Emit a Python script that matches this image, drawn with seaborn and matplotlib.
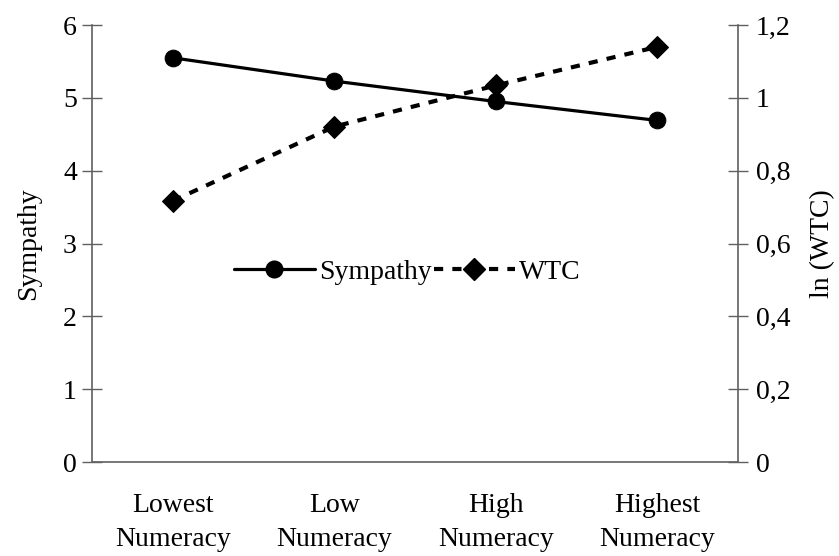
import matplotlib
matplotlib.use("Agg")
import matplotlib.pyplot as plt
import seaborn as sns
import pandas as pd
from matplotlib.lines import Line2D

categories = ["Lowest\nNumeracy", "Low\nNumeracy", "High\nNumeracy", "Highest\nNumeracy"]
sympathy = [5.55, 5.23, 4.95, 4.69]
ln_wtc = [0.717, 0.921, 1.034, 1.140]
left_ticks = [0, 1, 2, 3, 4, 5, 6]
right_ticks = [0, 0.2, 0.4, 0.6, 0.8, 1.0, 1.2]
right_labels = ["0", "0,2", "0,4", "0,6", "0,8", "1", "1,2"]

sns.set_theme(style="white")
plt.rcParams["font.family"] = ["Liberation Serif", "DejaVu Serif"]
plt.rcParams["text.color"] = "black"
plt.rcParams["axes.labelcolor"] = "black"
plt.rcParams["xtick.color"] = "black"
plt.rcParams["ytick.color"] = "black"

df = pd.DataFrame({"x": range(len(categories)), "Sympathy": sympathy, "WTC": ln_wtc})

fig = plt.figure(figsize=(8.39, 5.56), dpi=100)
ax = fig.add_axes([0.1097, 0.169, 0.7699, 0.786])
ax2 = ax.twinx()

spine_col = "#606060"
fs = 20

sns.lineplot(data=df, x="x", y="Sympathy", ax=ax, color="black", lw=2.3,
             marker="o", markersize=12, markeredgecolor="black", legend=False)
sns.lineplot(data=df, x="x", y="WTC", ax=ax2, color="black", lw=3.0,
             marker="D", markersize=11, markeredgecolor="black", legend=False)
ax2.lines[0].set_dashes([2.2, 2.2])

ax.set_xlim(-0.5, 3.5)
ax.set_ylim(0, 6)
ax2.set_ylim(0, 1.2)

ax.set_xticks([-0.5, 0.5, 1.5, 2.5, 3.5])
ax.set_xticklabels([])
ax.set_xticks(range(len(categories)), minor=True)
ax.set_xticklabels(categories, minor=True, fontsize=fs, linespacing=1.5)
ax.tick_params(axis="x", which="minor", length=0, pad=22, labelcolor="black")
ax.tick_params(axis="x", which="major", direction="inout", length=14, width=1, color=spine_col)

ax.set_yticks(left_ticks)
ax.set_yticklabels([str(t) for t in left_ticks], fontsize=fs)
ax.tick_params(axis="y", direction="inout", length=14, width=1, color=spine_col, pad=4,
               left=True, labelcolor="black")
ax2.set_yticks(right_ticks)
ax2.set_yticklabels(right_labels, fontsize=fs)
ax2.tick_params(axis="y", direction="inout", length=14, width=1, color=spine_col, pad=6,
                right=True, labelcolor="black")

for a in (ax, ax2):
    a.spines["top"].set_visible(False)
    for s in ("left", "right", "bottom"):
        a.spines[s].set_color(spine_col)
        a.spines[s].set_linewidth(1.2)
    a.grid(False)
ax.spines["right"].set_visible(False)
ax2.spines["left"].set_visible(False)
ax2.spines["bottom"].set_visible(False)

ax.set_xlabel("")
ax.set_ylabel("Sympathy", fontsize=fs, labelpad=16, color="black")
ax2.set_ylabel("ln (WTC)", fontsize=fs, labelpad=14, color="black")

handles = [
    Line2D([], [], color="black", lw=2.3, marker="o", markersize=12),
    Line2D([], [], color="black", lw=3.0, marker="D", markersize=11, dashes=[2.2, 2.2]),
]
ax2.legend(handles, ["Sympathy", "WTC"], loc="center", bbox_to_anchor=(0.488, 0.435),
           ncol=2, frameon=False, fontsize=fs, handlelength=2.9, handletextpad=0.15,
           columnspacing=0.1, labelcolor="black")

fig.savefig("out.png", dpi=100)
